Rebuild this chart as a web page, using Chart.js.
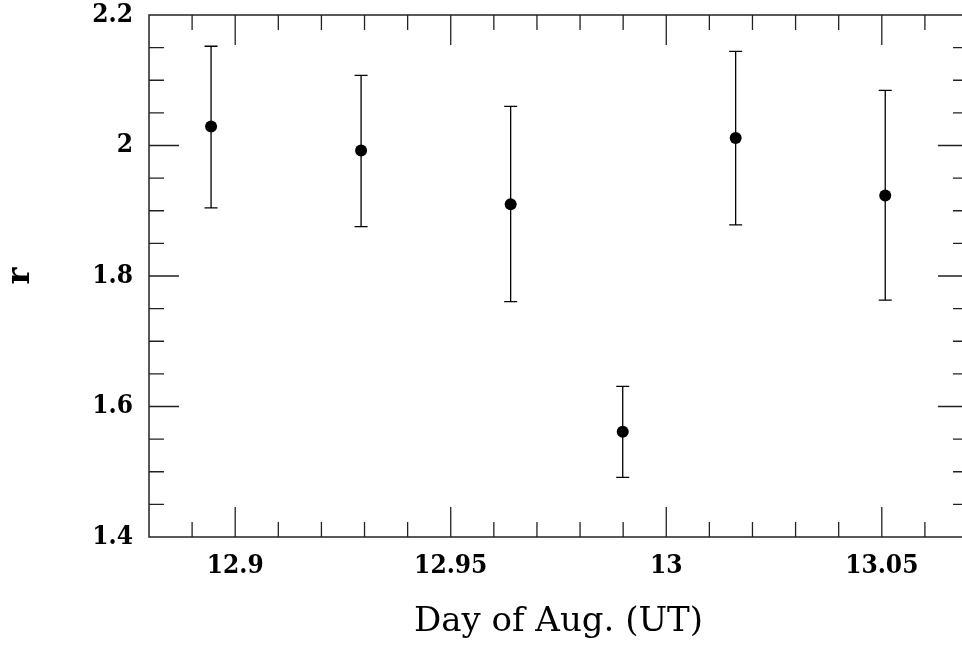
<!DOCTYPE html>
<html>
<head>
<meta charset="utf-8">
<script src="https://cdn.jsdelivr.net/npm/chart.js@4.4.1/dist/chart.umd.min.js"></script>
<style>
  html, body { margin: 0; padding: 0; background: #fff; overflow: hidden; }
  #wrap { width: 962px; height: 650px; overflow: hidden; }
</style>
</head>
<body>
<div id="wrap"><canvas id="chart" width="976" height="650"></canvas></div>
<script>
var days  = [12.8944, 12.9292, 12.9639, 12.9899, 13.0161, 13.0508];
var rVals = [2.029, 1.9925, 1.910, 1.5614, 2.0115, 1.9234];
var rLow  = [1.9045, 1.8758, 1.7607, 1.4913, 1.8784, 1.7629];
var rHigh = [2.1521, 2.1076, 2.060, 1.6309, 2.1444, 2.0846];

var xMajor = [12.9, 12.95, 13, 13.05];
var yMajor = [1.4, 1.6, 1.8, 2, 2.2];
var xMinor = [];
for (var k = 1289; k <= 1306; k++) xMinor.push(k / 100);
var yMinor = [];
for (var j = 29; j <= 43; j++) yMinor.push(j / 20);

var tickFont = { family: "'DejaVu Serif Condensed', 'DejaVu Serif', serif", size: 26, weight: 'bold' };

function isMajor(v, list) {
  return list.some(function (m) { return Math.abs(m - v) < 1e-6; });
}

var framePlugin = {
  id: 'frame',
  beforeDatasetsDraw: function (chart) {
    var ctx = chart.ctx, xs = chart.scales.x, ys = chart.scales.y;
    ctx.save();
    ctx.strokeStyle = '#000';
    ctx.lineWidth = 1.3;
    for (var i = 0; i < days.length; i++) {
      var px = xs.getPixelForValue(days[i]);
      var lo = ys.getPixelForValue(rLow[i]);
      var hi = ys.getPixelForValue(rHigh[i]);
      ctx.beginPath();
      ctx.moveTo(px, lo); ctx.lineTo(px, hi);
      ctx.moveTo(px - 6.5, lo); ctx.lineTo(px + 6.5, lo);
      ctx.moveTo(px - 6.5, hi); ctx.lineTo(px + 6.5, hi);
      ctx.stroke();
    }
    ctx.restore();
  },
  afterDraw: function (chart) {
    var ctx = chart.ctx, a = chart.chartArea;
    var xs = chart.scales.x, ys = chart.scales.y;
    ctx.save();
    ctx.strokeStyle = '#222';
    ctx.lineWidth = 1.5;
    ctx.strokeRect(a.left, a.top, a.right - a.left, a.bottom - a.top);
    ctx.lineWidth = 1.3;
    ctx.beginPath();
    xMinor.forEach(function (v) {
      var p = xs.getPixelForValue(v);
      var len = isMajor(v, xMajor) ? 30 : 15;
      ctx.moveTo(p, a.bottom); ctx.lineTo(p, a.bottom - len);
      ctx.moveTo(p, a.top); ctx.lineTo(p, a.top + len);
    });
    yMinor.forEach(function (v) {
      var p = ys.getPixelForValue(v);
      var len = isMajor(v, yMajor) ? 30 : 15;
      ctx.moveTo(a.left, p); ctx.lineTo(a.left + len, p);
      ctx.moveTo(a.right, p); ctx.lineTo(a.right - len, p);
    });
    ctx.stroke();
    ctx.restore();
  }
};

new Chart(document.getElementById('chart').getContext('2d'), {
  type: 'scatter',
  data: {
    datasets: [{
      data: days.map(function (d, i) { return { x: d, y: rVals[i] }; }),
      backgroundColor: '#000',
      borderWidth: 0,
      pointRadius: 6,
      pointHoverRadius: 6
    }]
  },
  options: {
    responsive: false,
    animation: false,
    events: [],
    layout: { padding: { top: 15, right: 8, left: 0, bottom: 0 } },
    plugins: { legend: { display: false }, tooltip: { enabled: false } },
    scales: {
      x: {
        type: 'linear',
        min: 12.88,
        max: 13.07,
        grid: { display: false, drawTicks: false },
        border: { display: false },
        afterBuildTicks: function (s) { s.ticks = xMajor.map(function (v) { return { value: v }; }); },
        afterFit: function (s) { s.height = 113; s.paddingLeft = 0; s.paddingRight = 0; },
        ticks: {
          color: '#000',
          padding: 14,
          maxRotation: 0,
          font: tickFont,
          callback: function (v) { return String(+v.toFixed(4)); }
        },
        title: {
          display: true,
          text: 'Day of Aug. (UT)',
          color: '#000',
          padding: { top: 0, bottom: 7 },
          font: { family: 'DejaVu Serif', size: 34, weight: 'normal' }
        }
      },
      y: {
        type: 'linear',
        min: 1.4,
        max: 2.2,
        grid: { display: false, drawTicks: false },
        border: { display: false },
        afterBuildTicks: function (s) { s.ticks = yMajor.map(function (v) { return { value: v }; }); },
        afterFit: function (s) { s.width = 149; s.paddingTop = 0; s.paddingBottom = 0; },
        ticks: {
          color: '#000',
          padding: 16,
          font: tickFont,
          callback: function (v) { return String(+v.toFixed(4)); }
        },
        title: {
          display: true,
          text: 'r',
          color: '#000',
          padding: { top: 1, bottom: 0 },
          font: { family: 'DejaVu Serif', size: 32, weight: 'bold' }
        }
      }
    }
  },
  plugins: [framePlugin]
});
</script>
</body>
</html>
